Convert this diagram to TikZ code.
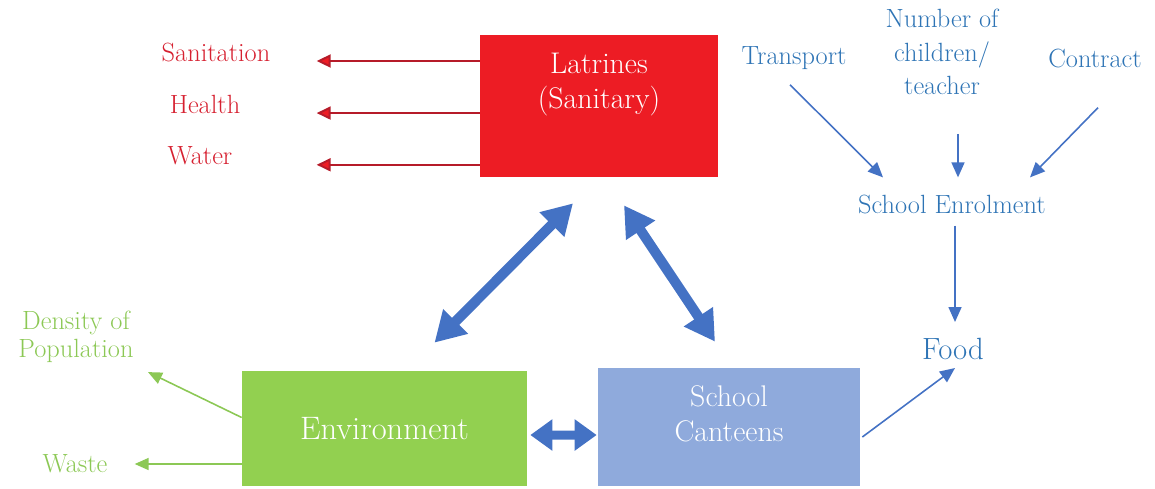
\documentclass[tikz,border=0pt]{standalone}
\usetikzlibrary{arrows.meta}
\definecolor{latred}{RGB}{237,28,36}
\definecolor{labred}{RGB}{214,32,48}
\definecolor{envgreen}{RGB}{146,208,80}
\definecolor{labgreen}{RGB}{140,200,85}
\definecolor{canblue}{RGB}{143,170,220}
\definecolor{labblue}{RGB}{46,116,181}
\definecolor{arrblue}{RGB}{68,114,196}
\begin{document}
\begin{tikzpicture}[x=0.02cm,y=-0.02cm,
  box/.style={text=white,align=center,inner sep=0pt},
  redlab/.style={text=labred,font=\fontsize{15}{18}\selectfont},
  bluelab/.style={text=labblue,align=center,font=\fontsize{15}{19}\selectfont},
  greenlab/.style={text=labgreen,align=center,font=\fontsize{15}{16}\selectfont},
  redarr/.style={draw=labred!85!black,line width=1.1pt,-{Triangle[length=0.28cm,width=0.26cm,fill=latred]}},
  thinarr/.style={draw=arrblue,line width=0.9pt,-{Triangle[length=0.3cm,width=0.26cm]}},
  greenarr/.style={draw=labgreen,line width=0.9pt,-{Triangle[length=0.28cm,width=0.24cm]}},
  fatarr/.style={draw=arrblue,line width=0.2cm,{Triangle[length=0.6cm,width=0.66cm]}-{Triangle[length=0.6cm,width=0.66cm]}},
  shortarr/.style={draw=arrblue,line width=0.18cm,{Triangle[length=0.44cm,width=0.6cm]}-{Triangle[length=0.44cm,width=0.6cm]}}]
\path[use as bounding box] (0,0) rectangle (1155,488);
\node[box,fill=latred,minimum width=4.76cm,minimum height=2.84cm,text depth=1cm,
  font=\fontsize{17}{20}\selectfont] (lat) at (599,106) {Latrines\\(Sanitary)};
\node[box,fill=envgreen,minimum width=5.7cm,minimum height=2.3cm,
  font=\fontsize{18.5}{22}\selectfont] (env) at (384.5,428.5) {Environment};
\node[box,fill=canblue,minimum width=5.24cm,minimum height=2.36cm,text depth=0.55cm,
  font=\fontsize{17}{20}\selectfont] (can) at (729,427) {School\\Canteens};
\node[redlab] (san) at (216,52) {Sanitation};
\node[redlab] (hea) at (205,104) {Health};
\node[redlab] (wat) at (200,156) {Water};
\draw[redarr] (lat.west |- san.base) -- +(-163,0);
\draw[redarr] (lat.west |- hea.base) -- +(-163,0);
\draw[redarr] (lat.west |- wat.base) -- +(-163,0);
\node[bluelab] (tra) at (794,58) {Transport};
\node[bluelab] (num) at (942,52) {Number of\\children/\\teacher};
\node[bluelab] (con) at (1095,58) {Contract};
\node[bluelab] (enr) at (952,204) {School Enrolment};
\node[bluelab,font=\fontsize{17.5}{20}\selectfont] (foo) at (953,349) {Food};
\draw[thinarr] ([shift={(-4,9)}]tra.south) -- ([shift={(-69,-11)}]enr.north);
\draw[thinarr] ([shift={(16,33)}]num.south) -- ([shift={(6,-11)}]enr.north);
\draw[thinarr] ([shift={(3,34)}]con.south) -- ([shift={(78,-11)}]enr.north);
\draw[thinarr] ([shift={(3,6)}]enr.south) -- ([shift={(2,-10)}]foo.north);
\draw[thinarr] ([shift={(2,10)}]can.east) -- ([shift={(2,2)}]foo.south);
\node[greenlab] (den) at (76,337) {Density of\\Population};
\node[greenlab] (was) at (75,464) {Waste};
\draw[greenarr] ([shift={(0,-11)}]env.west) -- ([shift={(72,3)}]den.south);
\draw[greenarr] (env.west |- was) -- +(-107,0);
\draw[fatarr] ([shift={(50,-28)}]env.north) -- ([shift={(-26,26)}]lat.south);
\draw[fatarr] ([shift={(25,28)}]lat.south) -- ([shift={(-14,-26)}]can.north);
\draw[shortarr] ([shift={(3,6.5)}]env.east) -- ([shift={(-1,8)}]can.west);
\end{tikzpicture}
\end{document}
